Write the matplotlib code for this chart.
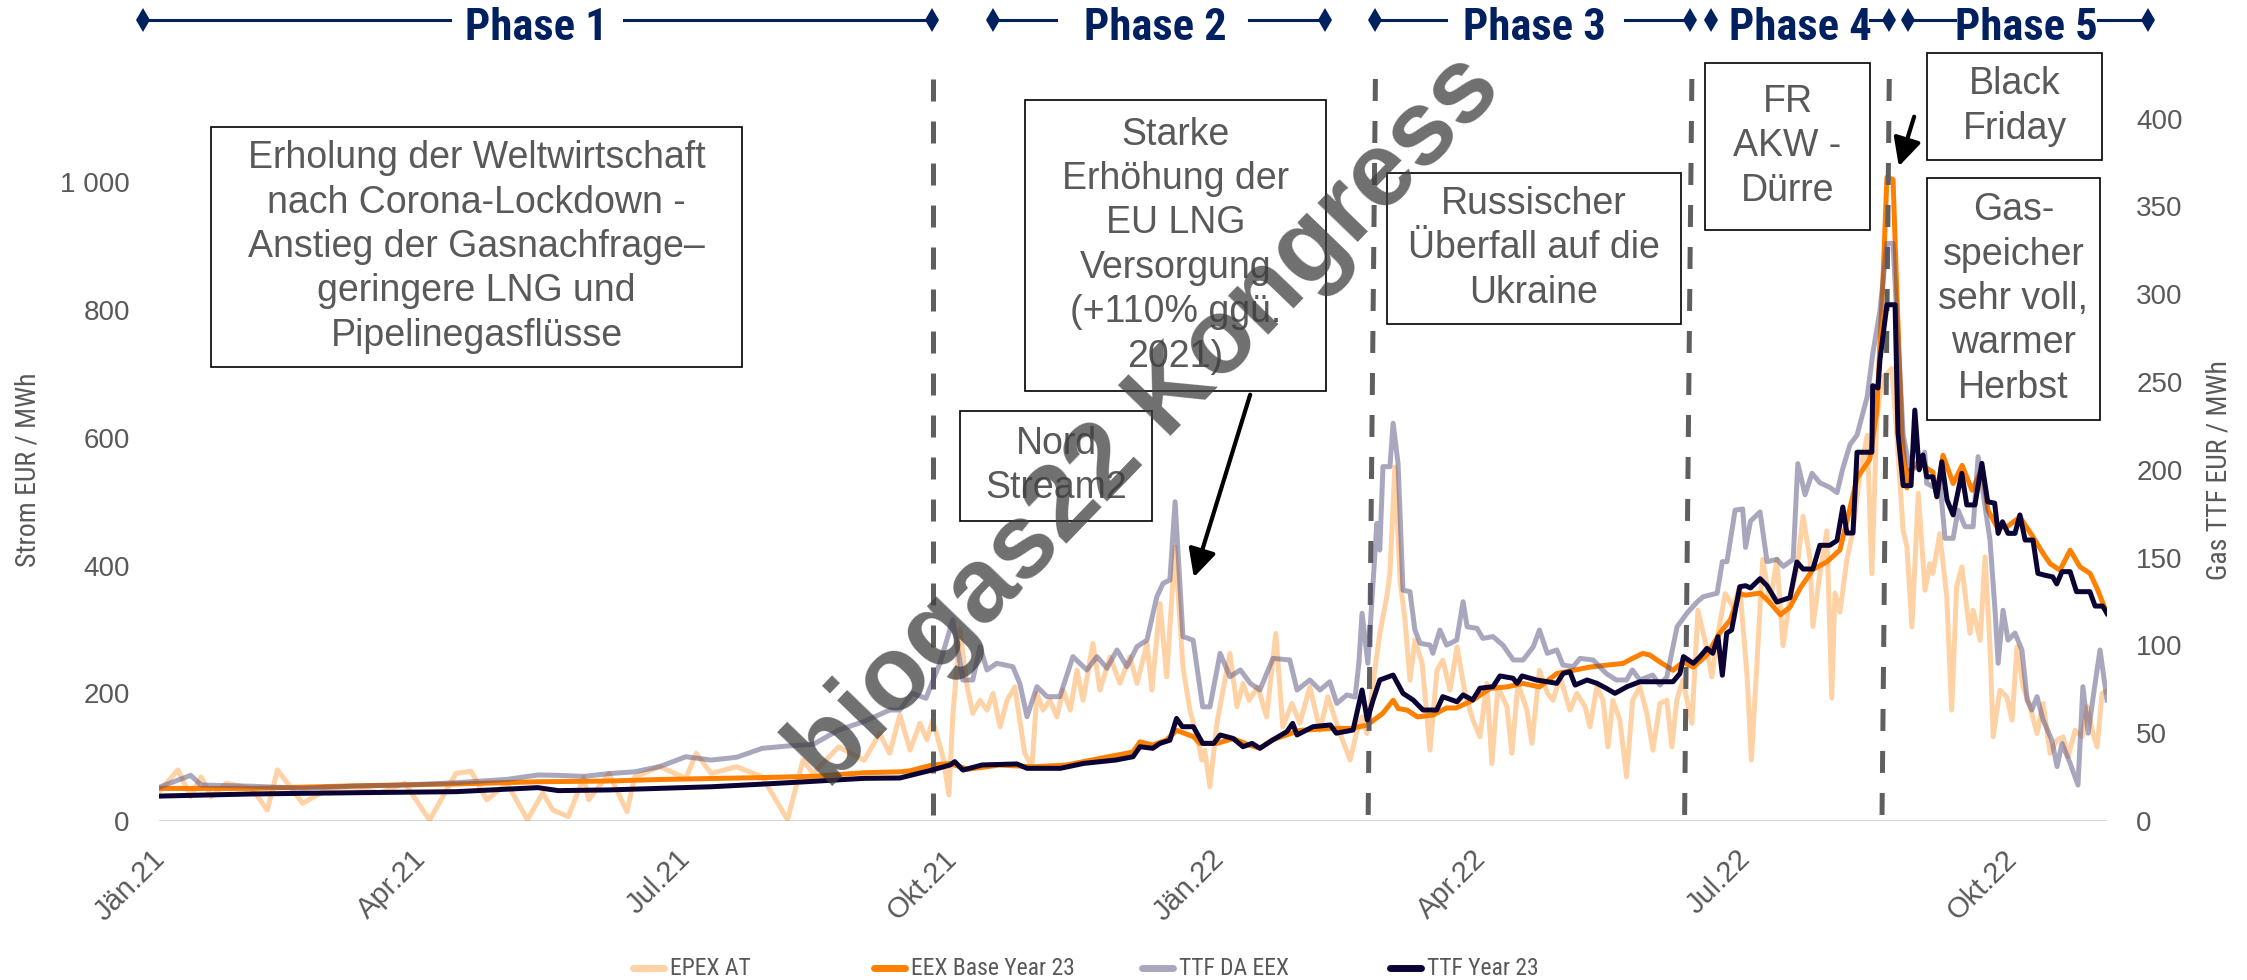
import matplotlib
matplotlib.use('Agg')
import matplotlib.pyplot as plt
from matplotlib.patches import Rectangle, FancyArrowPatch
from matplotlib.lines import Line2D
import pandas as pd
import numpy as np

W, H, DPI = 2247, 980, 100
START = pd.Timestamp('2021-01-01')

# ---------------- data (day offset from 2021-01-01, value) ----------------
epex_at = [(0,48),(6,80),(10.4,38),(14,69),(17.5,38),(22.7,59),(31.5,51),(36.8,17),(40.3,80),(49,27.7),(57.9,51),(66.7,53),(75.5,44),(84.2,59),(92.7,1.5),(101.8,74.6),(107,78),(112.4,33),(119.4,59),(126.4,2),(131.7,44),(135.2,17),(140.5,7),(145.8,69),(147.5,33),(154.5,74.6),(160.7,14.6),(163.3,69),(172,85),(181,67),(184.5,106),(189.7,74.6),(198.5,85),(207.3,69),(216,2),(221.3,95),(224.9,74.6),(233.6,116),(242.4,95),(247.7,137),(251.2,106),(254.7,166),(258.2,111),(261.6,153),(264,127),(266,158),(269.5,100.6),(271.6,40.7),(272.9,163),(275.4,299),(277.7,215.5),(279.8,168.5),(282.3,189),(284.7,173.7),(286.8,199.8),(289.2,147.6),(291.6,189),(294.3,210),(297.7,106),(300.2,85),(301.9,199.8),(304,173.7),(306.4,189),(308.8,163),(310.9,205),(313.4,173.7),(315.7,236),(317.8,189),(321.2,278),(323.6,205),(327.1,257),(330.5,215.5),(333.9,257),(336.4,215.5),(339.8,278),(341.5,205),(344.3,340.7),(346.6,225.8),(349.5,429),(352.2,241.5),(354.6,173.7),(357,132),(358.7,95.5),(359.7,111),(361.5,53.7),(363.9,153),(366,205),(368.4,262.4),(370.8,178.9),(372.9,215.5),(375,189),(378,210),(381,163),(384.2,293.7),(386.6,147.6),(389.7,184),(392.5,153),(395.9,210),(399.4,142),(402.1,194.5),(406.3,137),(409.8,95.5),(412.2,142),(413.9,163),(415.6,137),(417.7,215.5),(420,293.7),(422.4,351),(423.5,388),(425.2,554.5),(427,377),(428.7,314.6),(430.4,220.7),(432.1,283),(434.6,246.8),(437.3,111),(439.7,236),(441.7,252),(444.2,205),(446.6,272.8),(449.4,199.8),(452.1,158),(454.5,132),(456.9,215.5),(458.6,90),(460.7,210),(463.8,179),(465.5,106),(467.6,215.5),(470.7,173.7),(472.4,121.6),(475,236),(477.8,199.8),(479.7,189),(482.1,225.8),(485.5,173.7),(487.9,199.8),(490.7,179),(492.4,147.6),(494.8,210),(496.9,189),(498.6,116),(500.3,189),(502.7,158),(505,69.3),(507.1,189),(509.6,210),(512,168.5),(514.1,111),(516.5,184),(518.9,189),(520.6,116),(522.3,189),(524.4,220.7),(527.5,153),(529.6,330),(532,283),(534.4,225.8),(536.5,293.7),(539,356),(541.7,335),(544,366.7),(546.6,222),(548,95.5),(549.9,244.8),(551.9,409.6),(554.4,342),(556.8,409.6),(558.9,274.6),(561.3,349.6),(563.7,394),(565.8,477),(568.2,410),(569.2,304.7),(571.6,387),(574,454.4),(575.7,192.5),(576.8,357),(578.5,327),(580.9,409.6),(583,454.4),(585.4,544),(587.9,604),(589.5,387),(591.2,626.6),(593,694),(594.7,700),(596.4,709),(598.1,604),(600.3,454.4),(601.6,429),(603.3,304),(605.5,513),(607.8,361.5),(609.5,403),(610.5,387.6),(612.9,450),(615.3,351),(617,173.7),(618.7,366.7),(620.5,398),(623.3,293.7),(624.4,330),(626.8,283),(628.5,413.6),(630.2,272.8),(631.3,132),(633.6,205),(636,194.5),(637.8,158),(639.5,272.8),(641.6,210),(644,179),(646.4,137),(648.5,184),(650.9,106),(653.3,126.8),(655.4,132),(657.1,100.6),(659.5,142),(661.9,132),(663.7,179),(665.4,142),(667.1,116),(668.8,199.8),(670.8,205)]

eex_base_y23 = [(0,51),(31.5,51),(66.7,55),(101.8,58),(130,61.5),(154.5,62.6),(172,65),(207.3,68),(224.9,70),(242.4,75.6),(254.7,77),(258.3,78.7),(265.7,87.6),(272,90),(278,81),(289,87.6),(300.5,85),(312,87.6),(323.6,98),(335,108),(337.4,124),(341.8,119),(346.6,127),(350,142),(355.8,132),(358,121.6),(364,121.6),(369.5,129),(375,119),(378.7,114),(383,127),(392.5,142),(404,145),(410,145),(415.6,150),(421,168.5),(424.6,189),(426.4,176),(429.4,173.7),(433,163),(438.3,166),(443,177),(446.3,177),(452,189),(458,207.6),(463.8,210),(469.3,215.5),(475,210),(481,231),(486.7,236),(492.3,241),(498,244),(503.8,246.8),(507,254.6),(510.6,262.4),(513,260),(516.5,249),(521,236),(524.5,249),(528,241),(532.7,260),(537,293.7),(540.7,314.6),(544,356),(546,353.7),(551,357),(554.4,342),(558,323),(561.3,335),(564.8,364.6),(569.2,394),(574,405.8),(578.5,424.4),(580.9,469.5),(584.4,536.8),(588.8,566.7),(591.2,641.6),(593.3,843.8),(594.7,1008),(596.8,1004.7),(598.1,829),(599.9,604),(601.6,521.8),(602.6,549),(606.1,565),(608.5,552),(610.5,546.6),(611.9,507.5),(614,572.8),(617.5,528.5),(620.6,557),(624,518),(627.5,552),(629.5,486.7),(632.6,460.6),(636,460.6),(640.5,476),(645,445),(648.5,419),(650.9,403),(654.3,392.8),(657.8,424),(661.2,398),(664.7,387.6),(667.1,364),(670.5,325)]

ttf_da_eex = [(0,19.5),(10.4,26),(14,20.5),(31.5,19.8),(49,18.6),(66.7,19.9),(84.2,20.5),(101.8,21.8),(119.4,23.7),(130,26.2),(137,26),(145.8,25.4),(154.5,27),(163.3,28),(172,31),(181,36.6),(189.7,34.7),(198.5,36.3),(207.3,41.4),(216,42.7),(224.9,43.7),(233.6,51.8),(242.4,56.7),(251.2,63.2),(254.7,63.2),(258.9,72.7),(263.7,69.9),(265.7,78.4),(268.5,89.8),(272.9,114.5),(276.4,80.3),(279.8,80.3),(282.3,99.3),(284.7,86),(288.1,89.8),(293.6,87.9),(296,78.4),(298.5,59.4),(301.9,76.5),(305.4,70.8),(309.8,70.8),(314.3,93.6),(319.1,86),(322.6,93.6),(326,87),(329.5,97.4),(332.9,87.9),(336.4,99.3),(339.8,103),(343.2,127.7),(345.4,135.4),(347.7,137.2),(349.5,181.8),(352.2,105),(355.7,103),(359,65),(361.5,65),(365,95.5),(368.4,82.2),(372,86),(375.4,78.4),(378.7,74.6),(383.2,92.6),(389,91.7),(391.5,74.6),(395.9,80.3),(399.4,74.6),(402.8,79.3),(405.2,67),(408.7,71.8),(411.5,70.6),(412.8,89.8),(413.9,118.3),(415.9,89.8),(419,169.5),(420,154.3),(421.1,201.8),(423.5,201.8),(424.6,226.5),(426.3,203.7),(428,131.5),(430.4,130.6),(432.1,108.8),(433.9,101.2),(437.3,100.2),(438.3,95.5),(440.7,108.8),(443,100.2),(446.5,103),(448.7,124.9),(450.1,110.6),(453.5,109.7),(455.5,104),(459,105),(462.4,100.2),(466,91.7),(469.4,91.7),(472.9,99.3),(475,108.8),(477.7,95.5),(481,97.4),(483.1,88.8),(486.6,87.9),(489,92.6),(493.5,91.7),(498,84),(501.5,80.3),(505,80.3),(507,86),(509.6,80.3),(514,83.1),(516.5,77.4),(518.9,82.2),(522.4,110.6),(525.8,118.3),(529.4,124.9),(531.4,127.7),(536.2,129.7),(538,147.7),(539.6,147.7),(542.4,177),(545,177.7),(546,155.8),(547.7,170.8),(551,176),(553.4,147.7),(556.8,149),(559,145),(562.4,149),(564,203.5),(566.5,185.8),(568.9,198),(571.6,192.6),(575,190),(577.5,187),(579.5,200.8),(582,214.4),(584.4,219.8),(587.9,241.6),(589.8,266),(592.3,290.7),(594.7,328.9),(596.8,328.9),(598.5,274.5),(600.3,219.8),(602.6,200),(605.5,201.8),(607.7,210),(608.4,192.3),(610.5,190.4),(612.9,194),(614.7,161),(617.5,161),(619.2,177),(621.6,167.6),(624.4,167.6),(626.1,207.5),(628.5,179),(630.2,160),(632,118.3),(633,89.8),(634.7,120),(636.4,103),(638.8,107),(641.2,97.4),(643,68.9),(644.6,63.2),(646.4,70.8),(648.5,57.5),(651.5,46),(653.3,31),(655,44.2),(657.8,32.9),(660.5,20.5),(662.2,76.5),(664,50),(666.4,78.4),(668.1,97.4),(670.5,68.9)]

ttf_year23 = [(0,14.2),(31.5,15.4),(66.7,16.1),(101.8,16.7),(130,19),(137,17.3),(154.5,17.7),(172,18.6),(189.7,19.5),(207.3,21),(224.9,22.6),(242.4,24.3),(254.7,24.5),(265.7,29),(272,31.9),(273.6,33.8),(276.4,29),(283,31.9),(295,32.5),(298.5,30),(300.5,30),(310,30),(318,32.8),(329,34.7),(335,36.6),(337.4,42.3),(341.8,41.4),(344.3,44.2),(347.7,46),(350,58.4),(352,53.7),(355.8,53.7),(359,44.2),(362.8,44.2),(365,49),(369.5,47),(372.9,42.3),(376,44.2),(378.7,41.4),(383,46),(388,50.9),(390,55.6),(391.5,49),(397,53.7),(403,54.7),(405,50),(410.8,51.8),(413.9,74.6),(415.7,57.5),(417.7,68.9),(420,80.3),(424.6,83.1),(428,72.7),(431.5,68.9),(434.9,63.2),(439.6,63.2),(441.7,70.8),(446.6,67.9),(448.7,71.8),(452,68.9),(454.5,75.6),(459,76.5),(461.4,82.6),(465.9,81.3),(467.3,78.4),(469,82.6),(474,80.3),(477.6,79.3),(481,78.4),(483.2,84.1),(485.5,85),(487.3,77.4),(491.4,80.3),(494.8,78.4),(498,75.6),(501,72.7),(505.2,76.5),(509.6,79.3),(515.5,79.3),(521,79.3),(523.4,84),(524.6,93.6),(528,89.8),(530.3,93.6),(532.7,98.3),(534.7,95.5),(536.5,105),(538,83),(539.5,107),(541.2,108.8),(544,133.4),(546,134),(547.7,132.7),(551,138),(553.4,134),(556.8,124.7),(558.9,125.9),(561.3,127.2),(563.7,147.5),(565.8,143.5),(569.2,143.5),(571.6,157),(575,157),(577.5,159.7),(579.5,178.8),(580.9,164),(583,164),(584.4,210),(589.5,210),(589.8,247.9),(591.6,246.6),(592.3,262.8),(594.7,294),(597.5,294),(598.5,221),(600.3,191),(603,191),(604.3,234),(605.8,200),(607.1,208.4),(608.4,196),(610.5,196),(611.9,184.7),(613.6,204.6),(615.4,182.8),(617.5,174.3),(620.5,198),(622.2,180),(625,180),(627.4,203.7),(629.4,181.8),(631.8,181),(633,163.8),(634.5,170.4),(636.4,163.8),(638.8,163.8),(640.5,174.3),(642.3,160),(645,160),(646.7,141),(649,140),(651.8,139),(653.2,135),(655,142),(657.8,142),(660,130.6),(664.6,130.6),(666.4,122.4),(669,122.4),(670.5,118.3)]

series_names = ['EPEX AT', 'EEX Base Year 23', 'TTF DA EEX', 'TTF Year 23']
tick_dates = ['2021-01-01', '2021-04-01', '2021-07-01', '2021-10-01',
              '2022-01-01', '2022-04-01', '2022-07-01', '2022-10-01']
tick_labels = ['Jän.21', 'Apr.21', 'Jul.21', 'Okt.21', 'Jän.22', 'Apr.22', 'Jul.22', 'Okt.22']
left_ticks = [0, 200, 400, 600, 800, 1000]
left_tick_labels = ['0', '200', '400', '600', '800', '1 000']
right_ticks = [0, 50, 100, 150, 200, 250, 300, 350, 400]
phase_bounds = [('2021-09-24', '2021-09-24'), ('2022-02-23 12:00', '2022-02-21'),
                ('2022-06-12 12:00', '2022-06-10'), ('2022-08-19 12:00', '2022-08-17')]

# ---------------- styling ----------------
C_EPEX = '#ff8000'
C_EEX = '#ff8000'
C_TTFDA = '#54507f'
C_TTFY = '#0c0335'
GRAY_TXT = '#595959'
NAVY = '#002060'
NARROW = ['Roboto Condensed', 'DejaVu Sans']
REG = ['Liberation Sans', 'DejaVu Sans']
plt.rcParams['font.family'] = REG


def to_xy(pairs):
    d = np.array([p[0] for p in pairs], dtype=float)
    v = np.array([p[1] for p in pairs], dtype=float)
    t = START + pd.to_timedelta(d, unit='D')
    return t, v


def fx(px):
    return px / W


def fy(py):
    return 1 - py / H


fig = plt.figure(figsize=(W / DPI, H / DPI), dpi=DPI)
ax_l, ax_r, ax_t, ax_b = 159, 2107, 118.6, 821
ax = fig.add_axes([fx(ax_l), fy(ax_b), (ax_r - ax_l) / W, (ax_b - ax_t) / H])
ax2 = ax.twinx()

LW = 3.6
series_styles = [
    (ax, epex_at, dict(color=C_EPEX, alpha=0.35)),
    (ax, eex_base_y23, dict(color=C_EEX)),
    (ax2, ttf_da_eex, dict(color=C_TTFDA, alpha=0.5)),
    (ax2, ttf_year23, dict(color=C_TTFY)),
]
for a, data, st in series_styles:
    t, v = to_xy(data)
    a.plot(t, v, lw=LW, solid_joinstyle='round', zorder=2, **st)

ax.set_xlim(START - pd.Timedelta(days=0.5), START + pd.Timedelta(days=670.5))
ax.set_ylim(0, 1100)
ax2.set_ylim(0, 400)

for a in (ax, ax2):
    for s in a.spines.values():
        s.set_visible(False)
ax.axhline(0, color='#d9d9d9', lw=2.2, zorder=1)

ax.set_xticks(pd.to_datetime(tick_dates))
ax.set_xticklabels(tick_labels, rotation=45, ha='right', va='center',
                   rotation_mode='anchor', fontsize=21, color=GRAY_TXT)
ax.tick_params(axis='x', length=0, pad=24)
ax.set_yticks(left_ticks)
ax.set_yticklabels(left_tick_labels, fontsize=20, color=GRAY_TXT)
ax.tick_params(axis='y', length=0, pad=21)
ax2.set_yticks(right_ticks)
ax2.set_yticklabels([str(r) for r in right_ticks], fontsize=20, color=GRAY_TXT)
ax2.tick_params(axis='y', length=0, pad=21)

fig.text(fx(28), fy(470), 'Strom EUR / MWh', rotation=90, ha='center', va='center',
         fontsize=20, color=GRAY_TXT, family=NARROW)
fig.text(fx(2219), fy(470), 'Gas TTF EUR / MWh', rotation=90, ha='center', va='center',
         fontsize=20, color=GRAY_TXT, family=NARROW)

# phase boundary dashed lines
for top_d, bot_d in phase_bounds:
    xt = pd.Timestamp(top_d)
    xb = pd.Timestamp(bot_d)
    ax.plot([xt, xb], [1.0564, 0.0057], transform=ax.get_xaxis_transform(),
            color='#5f5f5f', lw=3.6, dashes=(4.4, 4.0), dash_capstyle='butt',
            clip_on=False, zorder=4)

# phase header
phase_rows = [
    ('Phase 1', 143, 450, 536, 624, 932),
    ('Phase 2', 993, 1056, 1155, 1249, 1325),
    ('Phase 3', 1375, 1446, 1534, 1625, 1690),
    ('Phase 4', 1711, 1711, 1800, 1870, 1889),
    ('Phase 5', 1908, 1955, 2026, 2098, 2148),
]
hy = fy(20)
for name, xl, xle, xc, xrs, xr in phase_rows:
    if xle > xl:
        fig.add_artist(Line2D([fx(xl), fx(xle)], [hy, hy], color=NAVY, lw=2.2))
    fig.add_artist(Line2D([fx(xrs), fx(xr)], [hy, hy], color=NAVY, lw=2.2))
    fig.add_artist(Line2D([fx(xl), fx(xr)], [hy, hy], lw=0, marker='d',
                          markersize=12, color=NAVY, markeredgewidth=0))
    fig.text(fx(xc), fy(40), name, ha='center', va='baseline', fontsize=32,
             fontweight='bold', color=NAVY, family=NARROW)

# annotation boxes
boxes = [
    ((211, 127, 742, 367), 'Erholung der Weltwirtschaft\nnach Corona-Lockdown -\nAnstieg der Gasnachfrage–\ngeringere LNG und\nPipelinegasflüsse'),
    ((1025, 100, 1326, 391), 'Starke\nErhöhung der\nEU LNG\nVersorgung\n(+110% ggü.\n2021)'),
    ((960, 411, 1152, 521), 'Nord\nStream2'),
    ((1387, 173, 1681, 324), 'Russischer\nÜberfall auf die\nUkraine'),
    ((1705, 63, 1870, 230), 'FR\nAKW -\nDürre'),
    ((1927, 53, 2102, 160), 'Black\nFriday'),
    ((1927, 178, 2100, 420), 'Gas-\nspeicher\nsehr voll,\nwarmer\nHerbst'),
]
for (x_a, y_a, x_b, y_b), txt in boxes:
    fig.add_artist(Rectangle((fx(x_a), fy(y_b)), (x_b - x_a) / W, (y_b - y_a) / H,
                             transform=fig.transFigure, facecolor='white',
                             edgecolor='black', lw=1.2, zorder=5))
    fig.text(fx((x_a + x_b) / 2), fy((y_a + y_b) / 2), txt, ha='center', va='center',
             fontsize=27, color=GRAY_TXT, linespacing=1.3, zorder=6)

# arrows
for (xa, ya), (xb, yb) in [((1251, 392), (1193, 580)), ((1915, 114), (1898, 169))]:
    fig.add_artist(FancyArrowPatch((fx(xa), fy(ya)), (fx(xb), fy(yb)),
                                   transform=fig.transFigure,
                                   arrowstyle='-|>,head_length=1.2,head_width=0.6',
                                   mutation_scale=14, color='black', lw=3, zorder=7))

# watermark
fig.text(fx(1146), fy(422), 'biogas22 Kongress', rotation=46, rotation_mode='anchor',
         ha='center', va='center', fontsize=76, fontweight='bold', color='#3f3f3f',
         alpha=0.75, zorder=10)

# legend (manually laid out like the reference)
legend_x = [633, 874, 1142, 1390]
ly = fy(968)
for (a, data, st), name, lx in zip(series_styles, series_names, legend_x):
    fig.add_artist(Line2D([fx(lx), fx(lx + 31)], [ly, ly], lw=5, solid_capstyle='round', **st))
    fig.text(fx(lx + 37), ly, name, ha='left', va='center', fontsize=17,
             color=GRAY_TXT, family=NARROW)

fig.savefig('out.png', dpi=DPI)
